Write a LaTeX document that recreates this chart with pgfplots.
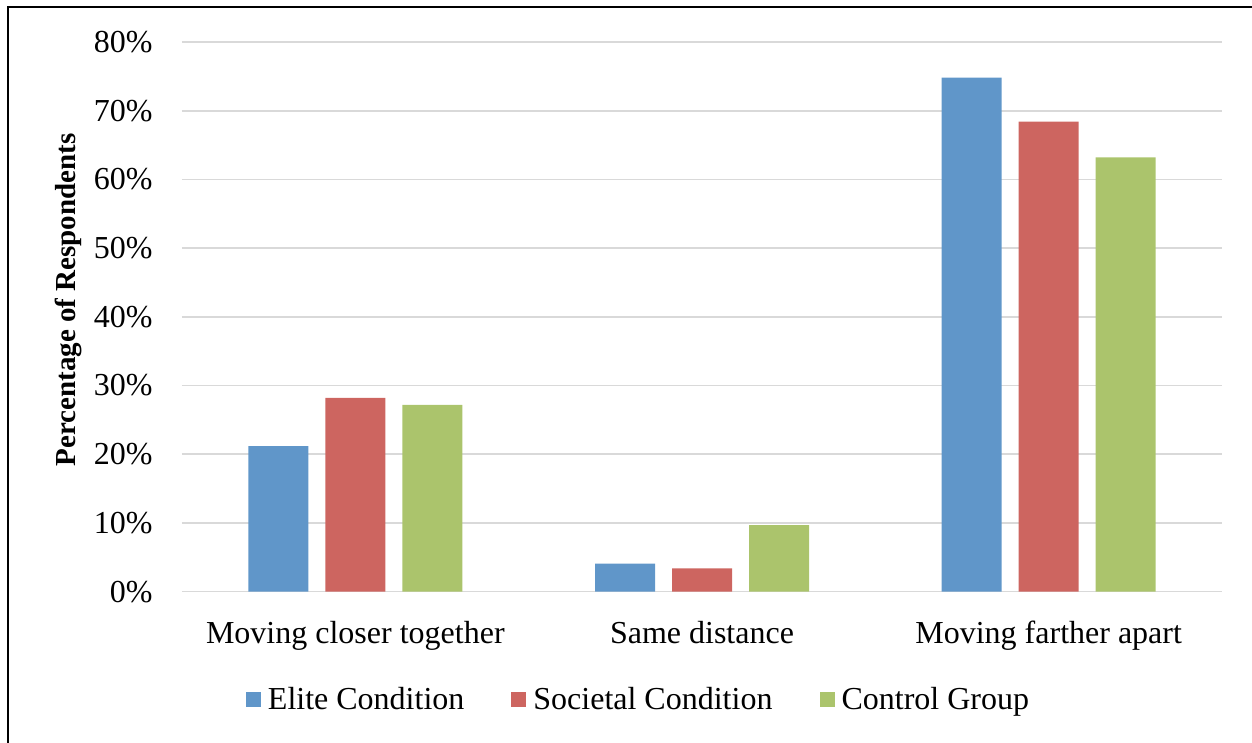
\documentclass[border=0pt]{standalone}
\usepackage{pgfplots}
\pgfplotsset{compat=1.18}
\usepackage{fontspec}
\setmainfont{Liberation Serif}

\definecolor{eliteblue}{RGB}{96,150,201}
\definecolor{societalred}{RGB}{205,101,96}
\definecolor{controlgreen}{RGB}{171,196,108}
\definecolor{gridgray}{RGB}{217,217,217}

\pgfplotstableread{
x elite societal control
0 21.2 28.2 27.2
1 4.1 3.4 9.7
2 74.8 68.4 63.2
}\results

\begin{document}
\begin{tikzpicture}
% page size: 1252 x 743 px at 0.5pt per px, axis origin at (182,591.7) px
\path[use as bounding box] (-91pt,-75.65pt) rectangle (535pt,295.85pt);
\begin{axis}[
  at={(0,0)}, anchor=south west,
  scale only axis,
  width=520pt, height=274.85pt,
  ybar=8.5pt, bar width=30pt,
  xmin=-0.5, xmax=2.5,
  ymin=0, ymax=80,
  ytick={0,10,...,80},
  xtick={0,1,2},
  xticklabels={Moving closer together, Same distance, Moving farther apart},
  yticklabel={\pgfmathprintnumber{\tick}\%},
  /pgf/number format/assume math mode=true,
  axis line style={draw=none},
  major tick length=0pt,
  ymajorgrids, grid style={gridgray, line width=0.8pt},
  tick label style={font=\fontsize{16}{19}\selectfont, inner sep=0pt},
  yticklabel style={anchor=east, xshift=-14.5pt},
  xticklabel style={anchor=base, yshift=-25.9pt},
  ylabel={\textbf{Percentage of Respondents}},
  ylabel style={font=\fontsize{14.5}{17}\selectfont, at={(axis description cs:-0.1096,0.5307)}, anchor=center},
  legend columns=3,
  legend style={draw=none, fill=none, at={(axis description cs:0.438,-0.197)}, anchor=center,
    font=\fontsize{16}{19}\selectfont, inner sep=0pt,
    /tikz/every even column/.append style={column sep=23.5pt},
    nodes={inner sep=0pt}},
  legend image code/.code={%
    \fill[#1] (0pt,-3.75pt) rectangle (7.5pt,3.75pt);
    \path (11pt,0pt);},
]
\addplot[fill=eliteblue, draw=none] table[x=x, y=elite] {\results};
\addplot[fill=societalred, draw=none] table[x=x, y=societal] {\results};
\addplot[fill=controlgreen, draw=none] table[x=x, y=control] {\results};
\legend{Elite Condition, Societal Condition, Control Group}
\end{axis}
% outer frame (left and top edges visible)
\draw[line width=1pt] (-87pt,-75.65pt) -- (-87pt,292.35pt) -- (535pt,292.35pt);
\end{tikzpicture}
\end{document}
